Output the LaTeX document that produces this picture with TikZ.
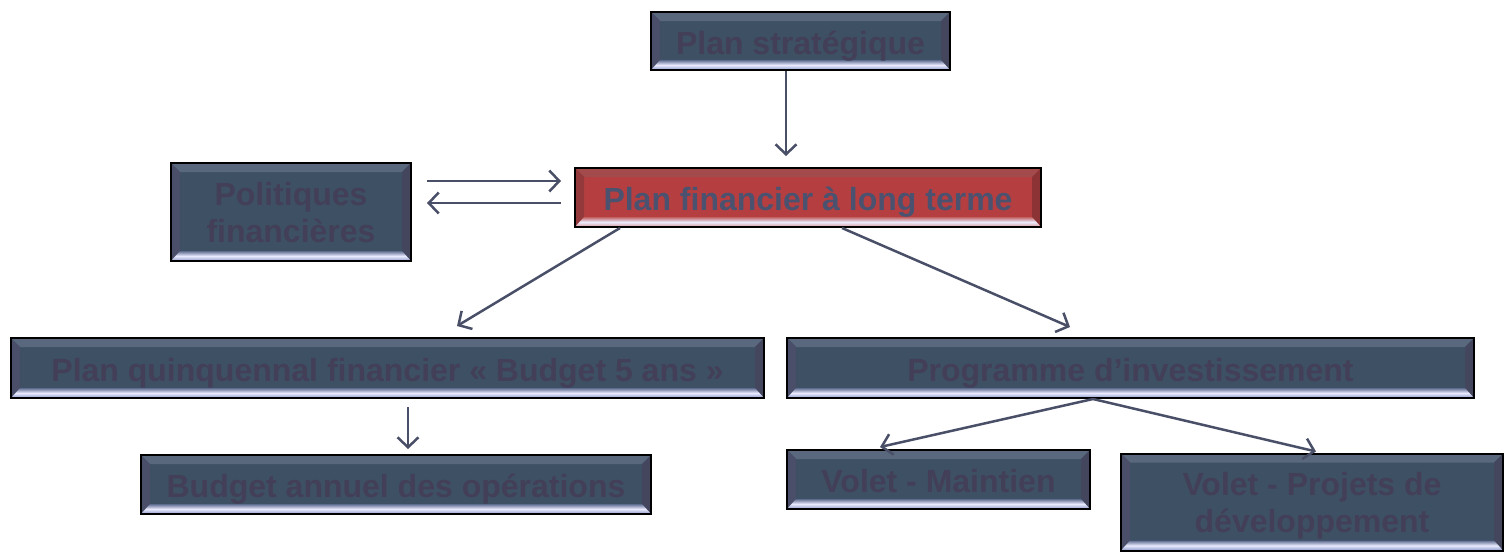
\documentclass[tikz,border=0pt]{standalone}
\usepackage{fontspec}
\setmainfont{Liberation Sans}
\usetikzlibrary{calc,arrows.meta}
\definecolor{face}{HTML}{3D5064}
\definecolor{ftop}{HTML}{5A687E}
\definecolor{fleft}{HTML}{4B4E68}
\definecolor{fright}{HTML}{44465E}
\definecolor{fbotA}{HTML}{5E6C90}
\definecolor{fbotB}{HTML}{8A9AC8}
\definecolor{dtext}{HTML}{433F58}
\definecolor{rface}{HTML}{B53F40}
\definecolor{rtop}{HTML}{A24A4C}
\definecolor{rleft}{HTML}{93393B}
\definecolor{rright}{HTML}{8C3335}
\definecolor{rbotA}{HTML}{C06060}
\definecolor{rbotB}{HTML}{D89898}
\definecolor{rtext}{HTML}{4A5270}
\definecolor{arrc}{HTML}{4A4F68}
\newcommand\bevelpic[5]{%
  \coordinate (bnw) at (path picture bounding box.north west);
  \coordinate (bne) at (path picture bounding box.north east);
  \coordinate (bsw) at (path picture bounding box.south west);
  \coordinate (bse) at (path picture bounding box.south east);
  \coordinate (inw) at ($(bnw)+(9pt,-9pt)$);
  \coordinate (ine) at ($(bne)+(-9pt,-9pt)$);
  \coordinate (isw) at ($(bsw)+(9pt,10pt)$);
  \coordinate (ise) at ($(bse)+(-9pt,10pt)$);
  \fill[#1] (bnw) -- (bne) -- (ine) -- (inw) -- cycle;
  \fill[#2] (bnw) -- (inw) -- (isw) -- (bsw) -- cycle;
  \fill[#3] (bne) -- (ine) -- (ise) -- (bse) -- cycle;
  \shade[top color=#4, bottom color=#5, middle color=white!92!blue] (bsw) -- (isw) -- (ise) -- (bse) -- cycle;
}
\tikzset{
  x=1pt, y=-1pt,
  darkbox/.style={draw=black, line width=2pt, fill=face, inner sep=0pt,
    font=\fontsize{32}{37}\selectfont\bfseries, text=dtext, align=center,
    path picture={\bevelpic{ftop}{fleft}{fright}{fbotA}{fbotB}}},
  redbox/.style={draw=black, line width=2pt, fill=rface, inner sep=0pt,
    font=\fontsize{32}{37}\selectfont\bfseries, text=rtext, align=center,
    path picture={\bevelpic{rtop}{rleft}{rright}{rbotA}{rbotB}}},
  oneline/.style={text height=26pt, text depth=0pt},
  arr/.style={draw=arrc, line width=2.5pt, -{Straight Barb[length=10pt,width=21pt,line width=2.5pt]}}
}
\begin{document}
\begin{tikzpicture}
\useasboundingbox (0,0) rectangle (1504,552);
\node[darkbox, oneline, minimum width=299pt, minimum height=58pt] (strat) at (800.5,41) {Plan stratégique};
\node[darkbox, text depth=-4pt, minimum width=240pt, minimum height=98pt] (pol) at (291,212) {Politiques\\financières};
\node[redbox, oneline, minimum width=466pt, minimum height=59pt] (pflt) at (808,197.5) {Plan financier à long terme};
\node[darkbox, oneline, minimum width=753pt, minimum height=60pt] (quin) at (387.5,368) {Plan quinquennal financier « Budget 5 ans »};
\node[darkbox, oneline, minimum width=687pt, minimum height=60pt] (prog) at (1130.5,368) {Programme d’investissement};
\node[darkbox, oneline, minimum width=510pt, minimum height=59pt] (budg) at (396,484.5) {Budget annuel des opérations};
\node[darkbox, oneline, minimum width=303pt, minimum height=59pt] (maint) at (938.5,479.5) {Volet - Maintien};
\node[darkbox, text depth=-1.3pt, minimum width=382pt, minimum height=97pt] (proj) at (1312,502) {Volet - Projets de\\développement};
\draw[arr] ($(strat.south)+(-14.5,0)$) -- ($(pflt.north)+(-22,-11)$);
\draw[arr] ($(pol.east)+(15,-31)$) -- ($(pflt.west)+(-13,-16.5)$);
\draw[arr] ($(pflt.west)+(-13,5.5)$) -- ($(pol.east)+(15,-9)$);
\draw[arr] ($(pflt.south)+(-188,0)$) -- ($(quin.north)+(69.5,-11)$);
\draw[arr] ($(pflt.south)+(34,0)$) -- ($(prog.north)+(-60.5,-10)$);
\draw[arr] ($(quin.south)+(20.5,8)$) -- ($(budg.north)+(12,-5)$);
\draw[arr] ($(prog.south)+(-37.5,0)$) -- ($(maint.north)+(-58.5,-2)$);
\draw[arr] ($(prog.south)+(-37.5,0)$) -- ($(proj.north)+(4,-1)$);
\end{tikzpicture}
\end{document}
